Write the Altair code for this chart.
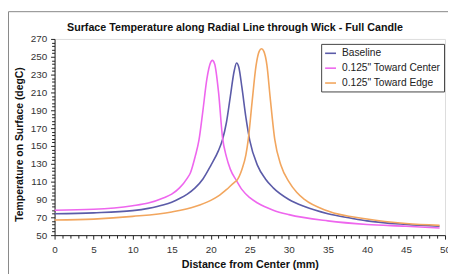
import altair as alt
import pandas as pd

# ---- data ----
series_names = ["Baseline", '0.125" Toward Center', '0.125" Toward Edge']
series_colors = ["#5B5BA8", "#EE66EE", "#F2A65E"]

base_x = [0, 5, 10, 12, 14, 15, 16, 17, 18, 19, 20, 21, 21.5, 22, 22.5, 23, 23.3, 23.6, 24, 24.5, 25, 26, 27, 28, 30, 32, 35, 38, 40, 45, 49.3]
base_y = [74, 75, 77.5, 80, 84, 87, 91, 96, 103, 113, 128, 145, 157, 176, 205, 234, 243, 238, 215, 182, 156, 128, 113, 103, 90, 82, 74, 69, 66, 62, 60]

ctr_x = [0, 5, 10, 12, 14, 15, 16, 17, 17.4, 18, 18.5, 19, 19.5, 20, 20.2, 20.5, 21, 21.5, 22, 22.5, 23.3, 24, 25, 26, 28, 30, 35, 40, 45, 49.3]
ctr_y = [78, 79, 83, 86, 92, 96, 103, 114, 120, 138, 157, 190, 225, 244, 246, 242, 210, 160, 138, 124, 111, 101, 92, 86, 78, 73, 66, 62, 60, 58]

edge_x = [0, 5, 10, 15, 18, 20, 21, 22, 23, 23.3, 24, 24.5, 24.8, 25.3, 25.8, 26.2, 26.5, 26.8, 27.2, 27.6, 28.2, 29, 30, 31, 32, 35, 40, 45, 49.3]
edge_y = [67, 68, 71, 76, 82, 89, 94, 101, 109, 111, 124, 140, 157, 200, 240, 256, 259, 256, 240, 205, 157, 128, 110, 98, 90, 77, 68, 63, 61]

x_ticks = list(range(0, 51, 1))
y_ticks = list(range(50, 271, 4))

title_text = "Surface Temperature along Radial Line through Wick - Full Candle"

rows = []
for name, xs, ys in zip(series_names, [base_x, ctr_x, edge_x], [base_y, ctr_y, edge_y]):
    for i, (xv, yv) in enumerate(zip(xs, ys)):
        rows.append({"series": name, "x": xv, "y": yv, "order": i})
df = pd.DataFrame(rows)

FONT = "Liberation Sans"

lines = alt.Chart(df).mark_line(strokeWidth=1.6, interpolate="monotone").encode(
    x=alt.X("x:Q", scale=alt.Scale(domain=[0, 50], nice=False),
            title="Distance from Center (mm)",
            axis=alt.Axis(values=x_ticks,
                          labelExpr="datum.value % 5 === 0 ? datum.label : ''",
                          tickSize={"condition": {"test": "datum.value % 5 === 0", "value": 4}, "value": 3},
                          grid=False, domainColor="#222", tickColor="#222", labelFlush=False,
                          labelFont=FONT, labelFontSize=10, labelColor="#333",
                          labelPadding=6, titleFont=FONT, titleFontSize=10.8,
                          titleFontWeight="bold", titlePadding=4, titleColor="#111")),
    y=alt.Y("y:Q", scale=alt.Scale(domain=[50, 270], nice=False),
            title="Temperature on Surface (degC)",
            axis=alt.Axis(values=y_ticks,
                          labelExpr="(datum.value - 50) % 20 === 0 ? datum.label : ''",
                          tickSize={"condition": {"test": "(datum.value - 50) % 20 === 0", "value": 4}, "value": 3},
                          grid=False, domainColor="#222", tickColor="#222", labelFlush=False,
                          labelFont=FONT, labelFontSize=10, labelColor="#333",
                          labelPadding=4, titleFont=FONT, titleFontSize=10.5,
                          titleFontWeight="bold", titlePadding=6, titleColor="#111",
                          titleY=106)),
    color=alt.Color("series:N", sort=series_names,
                    scale=alt.Scale(domain=series_names, range=series_colors),
                    legend=alt.Legend(title=None, orient="none", legendX=269, legendY=5,
                                      symbolType="stroke", symbolSize=121, symbolStrokeWidth=1.6,
                                      labelFont=FONT, labelFontSize=10.3, labelColor="#222",
                                      strokeColor="#444", fillColor="white", padding=3,
                                      rowPadding=3, labelOffset=5, symbolOffset=0)),
    order="order:Q",
)

title_mark = alt.Chart(pd.DataFrame({"t": [title_text]})).mark_text(
    font=FONT, fontSize=10.8, fontWeight="bold", color="#111", align="center", baseline="middle"
).encode(text="t:N", x=alt.value(182), y=alt.value(-11))

frame = alt.Chart(pd.DataFrame({"a": [0]})).mark_rect(strokeWidth=1).encode(
    x=alt.value(-46.5), x2=alt.value(420), y=alt.value(-27.5), y2=alt.value(270),
    fill=alt.value("transparent"), stroke=alt.value("#888")
)

chart = alt.layer(frame, lines, title_mark).properties(
    width=394, height=198,
    autosize=alt.AutoSizeParams(type="none"),
    padding={"left": 47, "top": 30, "right": 3, "bottom": 38},
).configure_view(stroke=None).configure(background="white")

chart.save("out.html", embed_options={"renderer": "svg", "actions": False})
